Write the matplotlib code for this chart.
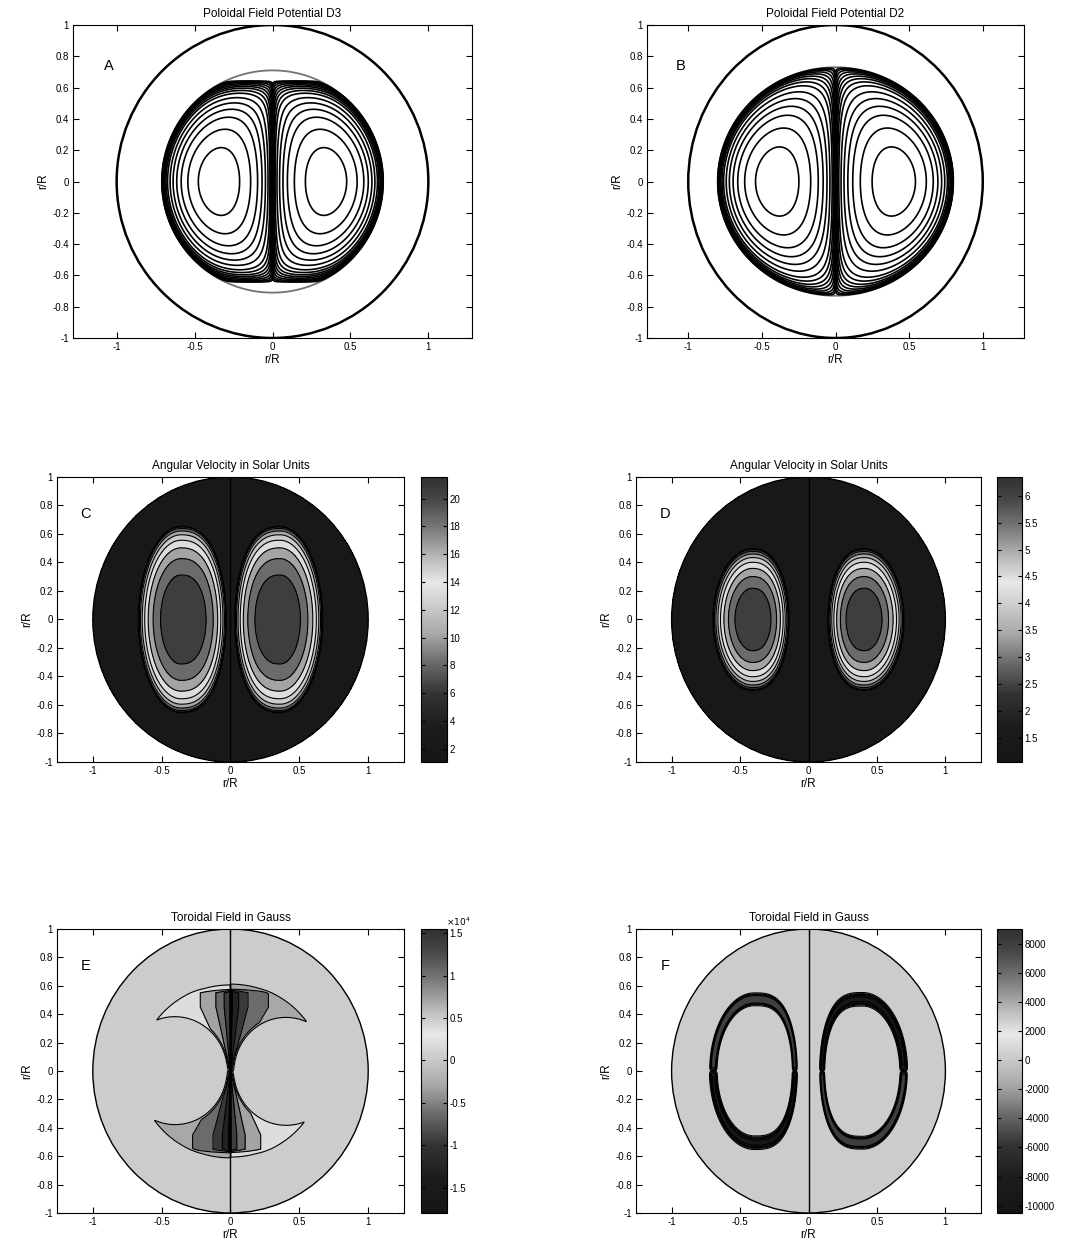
import numpy as np
import matplotlib.pyplot as plt
from matplotlib.colors import LinearSegmentedColormap, Normalize
from matplotlib.cm import ScalarMappable
from matplotlib.patches import Circle

plt.rcParams['font.family'] = ['Liberation Sans', 'DejaVu Sans']
plt.rcParams['axes.unicode_minus'] = False
plt.rcParams['contour.negative_linestyle'] = 'solid'

# text
titles = ['Poloidal Field Potential D3', 'Poloidal Field Potential D2',
          'Angular Velocity in Solar Units', 'Angular Velocity in Solar Units',
          'Toroidal Field in Gauss', 'Toroidal Field in Gauss']
letters = ['A', 'B', 'C', 'D', 'E', 'F']
xticks = [-1, -0.5, 0, 0.5, 1]
yticks = [-1, -0.8, -0.6, -0.4, -0.2, 0, 0.2, 0.4, 0.6, 0.8, 1]

# poloidal lobes: half width, half height, flat top, axis exponent
lobe_A = [0.71, 0.71, 0.645, 0.62]
lobe_B = [0.80, 0.73, 2.0, 0.66]
psi_levels = [0.004, 0.01, 0.02, 0.035, 0.055, 0.08, 0.11, 0.15, 0.2,
              0.28, 0.37, 0.47, 0.58, 0.72, 0.88]

# angular velocity lobes: centre, inner/outer half width, half height, inner exponent
shape_C = [0.36, 0.33, 0.31, 0.655, 2.5]
shape_D = [0.41, 0.27, 0.29, 0.50, 2.4]
# background, peak, exponent
omega_C = [1.1, 21.5, 0.4]
omega_D = [1.1, 6.35, 0.5]
levels_C = [1.05, 3.1, 5.15, 7.2, 9.25, 11.3, 13.35, 15.4, 17.45, 19.5, 21.55]
levels_D = [1.05, 1.58, 2.11, 2.64, 3.17, 3.70, 4.23, 4.76, 5.29, 5.82, 6.35]
ticks_C = [2, 4, 6, 8, 10, 12, 14, 16, 18, 20]
ticks_D = [1.5, 2, 2.5, 3, 3.5, 4, 4.5, 5, 5.5, 6]

# toroidal field E: outer half width/height, inner circle centre, inner radius, wing, core
tor_E = [0.68, 0.62, 0.40, 0.37, 3000, 13000]
levels_E = [-18000, -14650, -11300, -7950, -4600, -1250, 2100, 5450, 8800, 12150, 15500]
ticks_E = [-1.5, -1, -0.5, 0, 0.5, 1, 1.5]

# toroidal field F: ring shape, ring width, amplitude
shape_F = [0.395, 0.295, 0.30, 0.505, 3.0]
ring_F = [0.075, 8900]
levels_F = [-10500, -8550, -6600, -4650, -2700, -750, 1200, 3150, 5100, 7050, 9000]
ticks_F = [-10000, -8000, -6000, -4000, -2000, 0, 2000, 4000, 6000, 8000]

# grey map: dark at both ends, light just above the middle
cmap = LinearSegmentedColormap.from_list('mgray', [
    (0.0, '#151515'), (0.12, '#1c1c1c'), (0.24, '#333333'), (0.34, '#666666'),
    (0.45, '#a8a8a8'), (0.55, '#cccccc'), (0.63, '#e8e8e8'), (0.72, '#b8b8b8'),
    (0.82, '#7a7a7a'), (0.92, '#484848'), (1.0, '#303030')])

x = np.linspace(-1, 1, 601)
X, Y = np.meshgrid(x, x)
S = np.abs(X)
R = np.hypot(X, Y)


def poloidal(a, b, h, p):
    E = 1 - (S / a) ** 2 - (Y / b) ** 2
    F = 1 - (np.abs(Y) / h) ** 10
    psi = S ** p * np.clip(E, 0, None) * np.clip(F, 0, None)
    return psi / psi.max(), E


def lobe_radius(cx, a_in, a_out, b, m_in):
    dx = S - cx
    t = np.where(dx < 0, -dx / a_in, dx / a_out)
    m = np.where(dx < 0, m_in, 2.0)
    return np.sqrt(t ** m + (Y / b) ** 2)


def omega(rho, lo, hi, k):
    u = np.clip(1 - rho ** 2, 0, None)
    w = lo + (hi - lo) * u ** k
    return np.where(R <= 1, w, np.nan)


def field_E(ao, bo, cx, rin, wing, core):
    d_out = 0.63 * (1 - np.hypot(S / ao, Y / bo))
    d_in = np.hypot(S - cx, Y) - rin
    cres = np.clip(np.minimum(d_out, d_in) / 0.02, 0, 1)
    L = 0.52 * np.minimum(np.abs(Y), 0.45) + 0.005
    taper = np.clip((0.58 - np.abs(Y)) / 0.03, 0, 1)
    mag = cres * (wing + core * taper * np.exp(-(S / L) / 0.55))
    bt = -np.sign(X) * np.sign(Y) * mag
    return np.where(R <= 1, bt, np.nan)


def field_F(rho, w, amp):
    ring = np.exp(-((rho - 1) / w) ** 4)
    bt = -np.sign(X) * np.tanh(Y / 0.02) * amp * ring
    return np.where(R <= 1, bt, np.nan)


W, H = 1092, 1253


def rect(l, t, r, b):
    return [l / W, 1 - b / H, (r - l) / W, (b - t) / H]


fig = plt.figure(figsize=(W / 100, H / 100), dpi=100)

boxes = [(73, 25, 472, 338), (647, 25, 1024, 338),
         (57, 477, 404, 762), (636, 477, 981, 762),
         (57, 929, 404, 1213), (636, 929, 981, 1213)]
cboxes = [None, None, (421, 477, 447, 762), (997, 477, 1022, 762),
          (421, 929, 447, 1213), (997, 929, 1022, 1213)]


def style(ax, i, xl):
    ax.set_xlim(-xl, xl)
    ax.set_ylim(-1, 1)
    ax.set_xticks(xticks)
    ax.set_xticklabels(['%g' % v for v in xticks])
    ax.set_yticks(yticks)
    ax.set_yticklabels(['%g' % v for v in yticks])
    ax.tick_params(direction='in', top=True, right=True, length=4, width=0.8,
                   labelsize=7, pad=3)
    ax.set_title(titles[i], fontsize=8.5, pad=6)
    ax.set_xlabel('r/R', fontsize=8.5, labelpad=1)
    ax.set_ylabel('r/R', fontsize=8.5, labelpad=2)
    ax.text(-1.05, 0.74, letters[i], fontsize=10.5, ha='center', va='center')


# top row: poloidal potential contours
for i, lobe in enumerate([lobe_A, lobe_B]):
    ax = fig.add_axes(rect(*boxes[i]))
    psi, E = poloidal(*lobe)
    ax.contour(X, Y, E, levels=[0], colors='0.45', linewidths=1.3)
    ax.contour(X, Y, psi, levels=psi_levels, colors='k', linewidths=1.2)
    ax.add_patch(Circle((0, 0), 1, fill=False, ec='k', lw=1.8))
    style(ax, i, 1.28)

panels = [
    (omega(lobe_radius(*shape_C), *omega_C), levels_C, ticks_C, 1),
    (omega(lobe_radius(*shape_D), *omega_D), levels_D, ticks_D, 1),
    (field_E(*tor_E), levels_E, ticks_E, 1e4),
    (field_F(lobe_radius(*shape_F), *ring_F), levels_F, ticks_F, 1),
]

for j, (Z, lev, tks, scale) in enumerate(panels):
    i = j + 2
    ax = fig.add_axes(rect(*boxes[i]))
    norm = Normalize(lev[0], lev[-1])
    ax.contourf(X, Y, Z, levels=lev, cmap=cmap, norm=norm, extend='both')
    ax.contour(X, Y, Z, levels=lev[1:-1], colors='k', linewidths=0.8)
    ax.add_patch(Circle((0, 0), 1, fill=False, ec='k', lw=1.0))
    ax.plot([0, 0], [-1, 1], color='k', lw=1.0)
    style(ax, i, 1.26)

    cax = fig.add_axes(rect(*cboxes[i]))
    cb = fig.colorbar(ScalarMappable(norm=norm, cmap=cmap), cax=cax)
    cb.set_ticks([t * scale for t in tks])
    cb.set_ticklabels(['%g' % t for t in tks])
    cb.outline.set_linewidth(0.8)
    cax.tick_params(direction='in', left=True, right=True, length=3,
                    width=0.8, labelsize=7, pad=2)
    if scale != 1:
        cax.text(0.95, 1.005, r'$\times10^4$', transform=cax.transAxes,
                 fontsize=6.5, ha='left', va='bottom')

fig.savefig('out.png', dpi=100)
